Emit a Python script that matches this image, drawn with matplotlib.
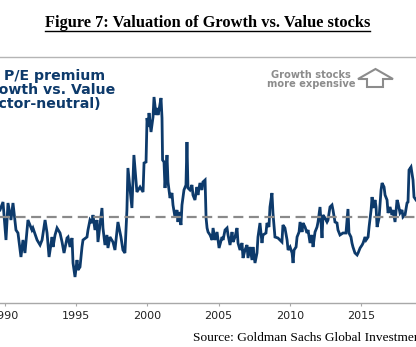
import matplotlib
matplotlib.use("Agg")
import matplotlib.pyplot as plt
from matplotlib.lines import Line2D
from matplotlib.patches import Polygon

# Growth vs. Value P/E premium (%)
years = [
    1989.67, 1989.88, 1990.09, 1990.23, 1990.44, 1990.58, 1990.79, 1990.93, 1991.14, 1991.28,
    1991.42, 1991.63, 1991.91, 1991.98, 1992.27, 1992.48, 1992.62, 1992.83, 1992.97, 1993.11,
    1993.32, 1993.39, 1993.53, 1993.67, 1993.88, 1994.02, 1994.16, 1994.37, 1994.44, 1994.58,
    1994.72, 1994.79, 1994.93, 1995.07, 1995.14, 1995.28, 1995.42, 1995.49, 1995.77, 1995.84,
    1995.98, 1996.12, 1996.19, 1996.33, 1996.47, 1996.54, 1996.82, 1996.89, 1997.03, 1997.17,
    1997.24, 1997.38, 1997.59, 1997.73, 1997.94, 1998.15, 1998.29, 1998.43, 1998.57, 1998.64,
    1998.92, 1999.06, 1999.27, 1999.49, 1999.70, 1999.77, 1999.91, 1999.98, 2000.05, 2000.12,
    2000.26, 2000.40, 2000.47, 2000.61, 2000.68, 2000.75, 2000.82, 2000.96, 2001.03, 2001.07,
    2001.17, 2001.24, 2001.38, 2001.45, 2001.59, 2001.73, 2001.80, 2001.94, 2002.08, 2002.15,
    2002.22, 2002.36, 2002.43, 2002.57, 2002.71, 2002.78, 2002.85, 2002.99, 2003.13, 2003.20,
    2003.34, 2003.48, 2003.55, 2003.69, 2003.83, 2003.90, 2004.05, 2004.12, 2004.19, 2004.26,
    2004.40, 2004.54, 2004.61, 2004.75, 2004.89, 2005.03, 2005.24, 2005.31, 2005.45, 2005.59,
    2005.66, 2005.80, 2005.94, 2006.01, 2006.15, 2006.29, 2006.36, 2006.50, 2006.64, 2006.71,
    2006.85, 2006.99, 2007.06, 2007.20, 2007.34, 2007.41, 2007.55, 2007.69, 2007.76, 2007.90,
    2008.04, 2008.11, 2008.32, 2008.39, 2008.53, 2008.60, 2008.74, 2008.81, 2008.95, 2009.16,
    2009.44, 2009.51, 2009.65, 2009.80, 2009.87, 2010.01, 2010.15, 2010.22, 2010.29, 2010.43,
    2010.50, 2010.64, 2010.71, 2010.85, 2010.92, 2011.06, 2011.20, 2011.27, 2011.41, 2011.55,
    2011.62, 2011.76, 2011.90, 2011.97, 2012.11, 2012.25, 2012.32, 2012.46, 2012.60, 2012.67,
    2012.81, 2012.95, 2013.02, 2013.16, 2013.30, 2013.37, 2013.51, 2013.72, 2013.93, 2014.07,
    2014.14, 2014.28, 2014.35, 2014.42, 2014.56, 2014.71, 2014.78, 2014.92, 2015.06, 2015.13,
    2015.27, 2015.34, 2015.48, 2015.55, 2015.69, 2015.76, 2015.83, 2015.97, 2016.04, 2016.11,
    2016.25, 2016.39, 2016.46, 2016.60, 2016.67, 2016.81, 2016.88, 2017.02, 2017.16, 2017.23,
    2017.37, 2017.51, 2017.58, 2017.72, 2017.86, 2017.93, 2018.07, 2018.21, 2018.28, 2018.35,
    2018.49, 2018.63, 2018.70, 2018.84,
]
premium = [
    23.5, 27.5, 8.5, 27.0, 18.5, 27.0, 13.5, 12.0, 0.0, 8.5,
    2.0, 18.5, 13.5, 14.5, 8.5, 6.0, 8.5, 18.5, 12.0, 0.0,
    10.0, 5.0, 11.0, 14.5, 12.0, 7.5, 2.0, 9.5, 10.0, 5.0,
    9.5, -3.0, -10.0, -1.5, -6.5, -5.0, 5.0, 8.5, 10.0, 13.5,
    18.5, 17.0, 21.0, 13.5, 18.5, 7.5, 24.5, 14.5, 6.0, 11.0,
    4.5, 10.0, 7.5, 3.5, 17.5, 10.0, 3.5, 2.0, 23.5, 44.5,
    24.5, 51.0, 32.5, 35.0, 32.5, 47.0, 47.5, 69.5, 65.0, 72.0,
    62.5, 70.0, 80.0, 71.0, 74.5, 71.0, 73.5, 79.5, 69.5, 48.5,
    47.5, 34.5, 51.0, 37.5, 29.5, 32.0, 26.0, 20.0, 23.5, 17.5,
    22.5, 16.0, 26.0, 33.5, 36.0, 57.5, 34.5, 33.5, 36.0, 31.0,
    28.5, 35.0, 31.0, 37.0, 33.5, 37.5, 38.5, 19.5, 14.5, 12.5,
    11.0, 8.5, 14.5, 8.5, 12.5, 4.5, 10.0, 8.5, 13.5, 14.5,
    11.0, 6.0, 12.5, 7.5, 10.0, 14.5, 7.0, 3.5, 7.0, -0.5,
    3.5, 6.0, -0.5, 5.0, -1.5, 5.0, -3.0, 2.0, 10.0, 17.0,
    7.0, 11.0, 12.0, 17.0, 15.0, 25.0, 32.0, 22.0, 10.0, 9.5,
    7.5, 16.0, 14.5, 8.5, 3.5, 5.0, 2.0, -3.0, 3.5, 5.0,
    10.0, 12.5, 17.5, 12.5, 17.0, 15.0, 12.0, 13.5, 7.0, 11.0,
    5.0, 12.5, 15.0, 17.5, 25.0, 9.5, 21.0, 19.5, 17.5, 18.5,
    25.0, 26.0, 23.5, 17.5, 17.0, 13.5, 11.0, 12.0, 12.0, 24.0,
    12.0, 10.0, 7.0, 5.0, 2.0, 1.0, 2.0, 4.5, 6.0, 7.0,
    10.0, 8.5, 10.0, 15.0, 23.5, 30.0, 24.5, 28.5, 25.0, 15.0,
    19.5, 33.5, 37.0, 35.0, 31.0, 28.5, 22.0, 25.0, 21.0, 23.5,
    17.5, 28.5, 27.0, 22.0, 23.5, 20.0, 21.0, 27.0, 27.5, 43.5,
    45.0, 38.5, 30.0, 28.5,
]
long_run_avg = 20.0
tick_years = [1990, 1995, 2000, 2005, 2010, 2015]

navy = "#0d3a6b"
grey = "#8a8a8a"

fig = plt.figure(figsize=(4.16, 3.47), dpi=100)
W, H = 416, 347

ax = fig.add_axes([0, 1 - 303 / H, 1, (303 - 60) / H])
ax.plot(years, premium, color=navy, lw=2.0, solid_joinstyle="miter")
ax.axhline(long_run_avg, color=grey, lw=1.6, dashes=(4.5, 2.5))
ax.set_xlim(1989.67, 2018.84)
ax.set_ylim(-23, 98.5)

for s in ["top", "left", "right"]:
    ax.spines[s].set_visible(False)
ax.spines["bottom"].set_color("#a8a8a8")
ax.spines["bottom"].set_linewidth(1.0)
ax.set_yticks([])
ax.set_xticks(tick_years)
ax.set_xticklabels([str(y) for y in tick_years])
ax.tick_params(axis="x", length=2, width=0.8, color="#a8a8a8", pad=3.5,
               labelsize=8, labelcolor="#222222")

# series label, clipped on the left like the original
lab = dict(transform=fig.transFigure, ha="left", va="center", fontsize=10.2,
           fontweight="bold", family="DejaVu Sans", color=navy)
fig.text(4 / W, 1 - 76 / H, "P/E premium", **lab)
fig.text(-20 / W, 1 - 90 / H, "Growth vs. Value", **lab)
fig.text(-25 / W, 1 - 103.5 / H, "(sector-neutral)", **lab)

fig.text(311 / W, 1 - 79.5 / H, "Growth stocks\nmore expensive", ha="center",
         va="center", fontsize=7.1, fontweight="bold", family="DejaVu Sans",
         color="#8c8c8c", linespacing=0.85)

# hollow up arrow
arrow_px = [(367, 87), (383, 87), (383, 79), (393, 79), (375.5, 69),
            (358, 79), (367, 79)]
fig.patches.append(Polygon([(x / W, 1 - y / H) for x, y in arrow_px], closed=True,
                           transform=fig.transFigure, facecolor="white",
                           edgecolor="#8c8c8c", lw=1.5))

# separator line below the title
fig.add_artist(Line2D([0, 1], [1 - 57.3 / H] * 2, transform=fig.transFigure,
                      color="#b5b5b5", lw=1.0))

title = fig.text(207.5 / W, 1 - 23 / H, "Figure 7: Valuation of Growth vs. Value stocks",
                 ha="center", va="center", fontsize=11.8, fontweight="bold",
                 family="Liberation Serif", color="black")

fig.text(193 / W, 1 - 338 / H, "Source: Goldman Sachs Global Investment Research",
         ha="left", va="center", fontsize=9.6, family="Liberation Serif", color="black")

# underline for the title
fig.canvas.draw()
bb = title.get_window_extent().transformed(fig.transFigure.inverted())
fig.add_artist(Line2D([bb.x0, bb.x1], [1 - 31 / H] * 2, transform=fig.transFigure,
                      color="black", lw=1.0))

fig.savefig("out.png", dpi=100)
